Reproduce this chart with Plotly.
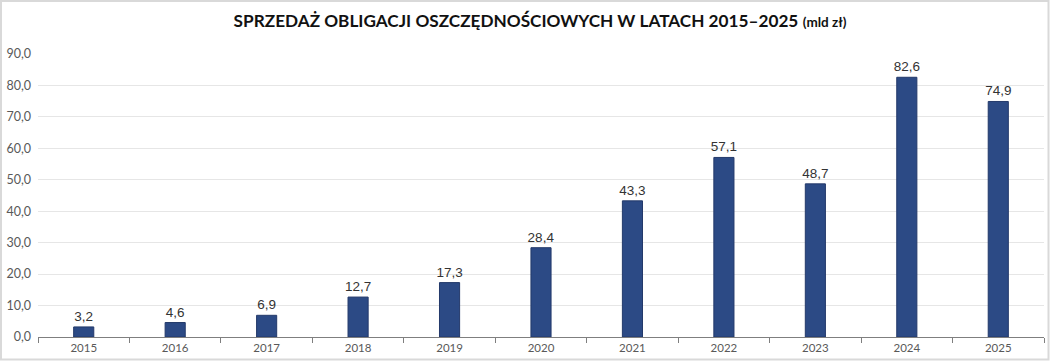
import plotly.graph_objects as go

years = ["2015", "2016", "2017", "2018", "2019", "2020", "2021", "2022", "2023", "2024", "2025"]
sales = [3.2, 4.6, 6.9, 12.7, 17.3, 28.4, 43.3, 57.1, 48.7, 82.6, 74.9]
y_ticks = [0, 10, 20, 30, 40, 50, 60, 70, 80, 90]

W, H = 1050, 361
ml, mr, mt, mb = 38, 6, 54, 24
pw, ph = W - ml - mr, H - mt - mb

fig = go.Figure()
fig.add_trace(go.Bar(
    x=years, y=sales,
    marker=dict(color="#2c4a85", line=dict(width=1, color="#23396a")),
    texttemplate="%{y:.1f}", textposition="outside",
    textfont=dict(family="Liberation Sans, Arial", size=13.5, color="#333333"),
    constraintext="none",
    cliponaxis=False,
    hoverinfo="skip",
))

fig.update_layout(
    width=W, height=H,
    margin=dict(l=ml, r=mr, t=mt, b=mb, autoexpand=False),
    paper_bgcolor="white", plot_bgcolor="white",
    separators=", ",
    bargap=0.78,
    showlegend=False,
    title=dict(
        text="<b>SPRZEDAŻ OBLIGACJI OSZCZĘDNOŚCIOWYCH W LATACH 2015–2025</b> <b><span style='font-size:13.5px'>(mld zł)</span></b>",
        x=540 / W, xanchor="center", y=1 - 21 / H, yanchor="middle",
        xref="container", yref="container",
        font=dict(family="Lato", size=17.2, color="#111111"),
    ),
    xaxis=dict(
        type="category",
        automargin=False,
        showgrid=False,
        showline=True, linecolor="#7f7f7f", linewidth=1,
        ticks="outside", tickson="boundaries", ticklen=5, tickcolor="#7f7f7f",
        tickfont=dict(family="Lato", size=11.5, color="#595959"),
    ),
    yaxis=dict(
        range=[0, 90],
        automargin=False,
        tickvals=y_ticks, tickformat=".1f",
        showgrid=True, gridcolor="#e6e6e6", gridwidth=1,
        zeroline=False, showline=False,
        tickfont=dict(family="Lato", size=12.5, color="#595959"),
        ticklabelstandoff=6,
    ),
    shapes=[dict(
        type="rect", xref="paper", yref="paper",
        x0=(1 - ml) / pw, x1=(W - 1.5 - ml) / pw,
        y0=-(H - 1.5 - (H - mb)) / ph, y1=(H - mb - 1) / ph,
        line=dict(color="#d9d9d9", width=2), fillcolor="rgba(0,0,0,0)",
        layer="below",
    )],
)

fig.write_html(
    "out.html",
    config={"displayModeBar": False},
    post_script="document.body.style.margin='0';document.body.style.overflow='hidden';",
)
